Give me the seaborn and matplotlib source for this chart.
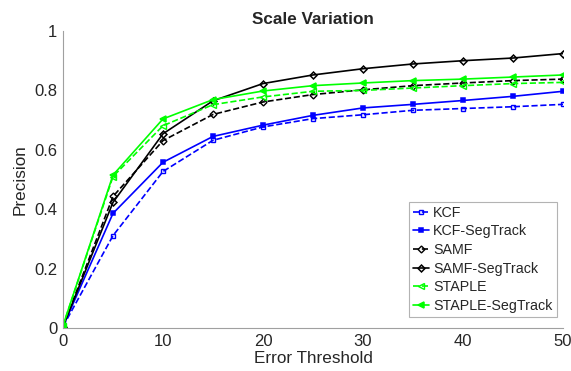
import matplotlib
matplotlib.use("Agg")
import matplotlib.pyplot as plt
import seaborn as sns
import pandas as pd

thresholds = [0, 5, 10, 15, 20, 25, 30, 35, 40, 45, 50]
kcf = [0.005, 0.311, 0.527, 0.632, 0.677, 0.705, 0.718, 0.733, 0.739, 0.745, 0.753]
kcf_seg = [0.005, 0.386, 0.558, 0.645, 0.683, 0.716, 0.741, 0.753, 0.766, 0.780, 0.797]
samf = [0.005, 0.443, 0.631, 0.719, 0.761, 0.786, 0.802, 0.816, 0.825, 0.833, 0.838]
samf_seg = [0.005, 0.423, 0.654, 0.765, 0.823, 0.852, 0.873, 0.889, 0.900, 0.909, 0.924]
staple = [0.008, 0.510, 0.681, 0.752, 0.778, 0.797, 0.800, 0.808, 0.816, 0.823, 0.827]
staple_seg = [0.008, 0.515, 0.704, 0.769, 0.798, 0.816, 0.825, 0.833, 0.838, 0.845, 0.852]

names = ["KCF", "KCF-SegTrack", "SAMF", "SAMF-SegTrack", "STAPLE", "STAPLE-SegTrack"]
series = [kcf, kcf_seg, samf, samf_seg, staple, staple_seg]
colors = ["#0000ff", "#0000ff", "#000000", "#000000", "#00ff00", "#00ff00"]
styles = ["--", "-", "--", "-", "--", "-"]
markers = ["s", "s", "D", "D", "<", "<"]
msizes = [3.5, 3.5, 3.5, 3.5, 4.5, 4.5]

sns.set_style("white")
plt.rcParams["font.family"] = ["Liberation Sans", "DejaVu Sans"]

fig = plt.figure(figsize=(5.71, 3.71), dpi=100)
ax = fig.add_axes([63 / 571, 1 - 328 / 371, 500 / 571, 297 / 371])

for name, vals, c, ls, m, ms in zip(names, series, colors, styles, markers, msizes):
    df = pd.DataFrame({"x": thresholds, "y": vals})
    filled = "SegTrack" in name
    face = c if (filled and m != "D") else "none"
    sns.lineplot(data=df, x="x", y="y", ax=ax, color=c, linestyle=ls, linewidth=1.2,
                 marker=m, markersize=ms, markeredgewidth=1.1 if filled else 1.0,
                 markerfacecolor=face, markeredgecolor=c,
                 label=name)

ax.set_xlim(0, 50)
ax.set_ylim(0, 1)
ax.set_xticks([0, 10, 20, 30, 40, 50])
ax.set_yticks([0, 0.2, 0.4, 0.6, 0.8, 1.0])
ax.set_yticklabels(["0", "0.2", "0.4", "0.6", "0.8", "1"])
ax.tick_params(axis="both", direction="in", length=4, width=0.8, color="#a0a0a0",
               labelsize=12, labelcolor="#262626", pad=4)
for s in ["top", "right"]:
    ax.spines[s].set_visible(False)
for s in ["left", "bottom"]:
    ax.spines[s].set_color("#a0a0a0")
    ax.spines[s].set_linewidth(0.8)

ax.set_xlabel("Error Threshold", fontsize=12.3, color="#262626", labelpad=1.5)
ax.set_ylabel("Precision", fontsize=12.3, color="#262626", labelpad=5)
ax.set_title("Scale Variation", fontsize=12.3, fontweight="bold", pad=5)

leg = ax.legend(loc="lower right", bbox_to_anchor=(0.988, 0.037), fontsize=10.3, frameon=True,
                fancybox=False, edgecolor="#a0a0a0", handlelength=1.1, handletextpad=0.3,
                labelspacing=0.32, borderpad=0.3, borderaxespad=0)
leg.get_frame().set_linewidth(0.8)

fig.savefig("out.png", dpi=100)
